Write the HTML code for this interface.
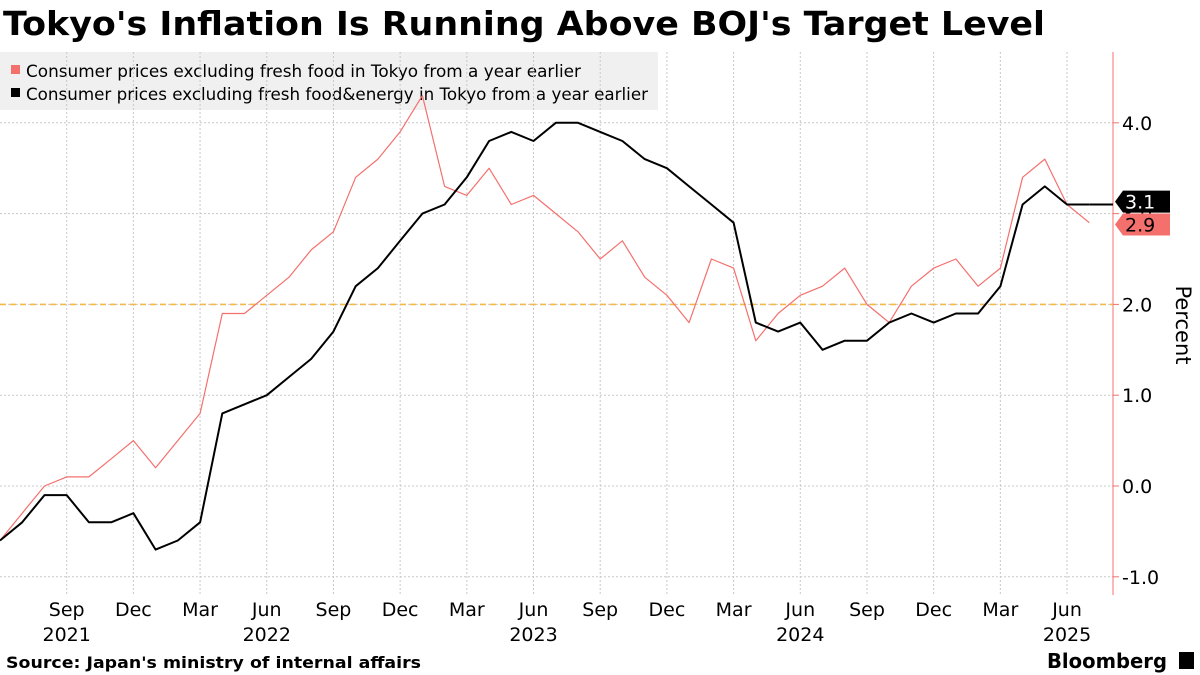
<!DOCTYPE html>
<html><head><meta charset="utf-8"><style>
body{margin:0;background:#fff;font-family:"DejaVu Sans","Liberation Sans",sans-serif;}
svg{display:block}
</style></head><body>
<svg id="c" width="1200" height="675" xmlns="http://www.w3.org/2000/svg" font-family="DejaVu Sans, Liberation Sans, sans-serif">
<text x="3" y="35" font-size="33" font-weight="bold" fill="#000" textLength="1042" lengthAdjust="spacingAndGlyphs">Tokyo's Inflation Is Running Above BOJ's Target Level</text>
<rect x="0" y="52" width="658" height="58" fill="#f0f0f0"/>
<rect x="11" y="65" width="9" height="9" fill="#f4706d"/>
<text x="26" y="77" font-size="16.5" fill="#000" textLength="555" lengthAdjust="spacingAndGlyphs">Consumer prices excluding fresh food in Tokyo from a year earlier</text>
<rect x="11" y="88" width="9" height="9" fill="#000"/>
<text x="26" y="100" font-size="16.5" fill="#000" textLength="622" lengthAdjust="spacingAndGlyphs">Consumer prices excluding fresh food&amp;energy in Tokyo from a year earlier</text>
<g id="grid"></g>
<g id="ticks"></g>
<g id="xt"></g>
<g id="series"></g>
<text transform="translate(1176,325) rotate(90)" font-size="21" text-anchor="middle" fill="#000">Percent</text>
<text x="6" y="668" font-size="16" font-weight="bold" fill="#000" textLength="415" lengthAdjust="spacingAndGlyphs">Source: Japan's ministry of internal affairs</text>
<text x="1047" y="668" font-size="20" font-weight="bold" fill="#000" textLength="120" lengthAdjust="spacingAndGlyphs">Bloomberg</text>
<rect x="1179" y="652" width="15" height="17" fill="#000"/>
</svg>
<script>
const months=["Jun","Jul","Aug","Sep","Oct","Nov","Dec","Jan","Feb","Mar","Apr","May"];
const startYear=2021;
const core=[-0.6,-0.3,0.0,0.1,0.1,0.3,0.5,0.2,0.5,0.8,1.9,1.9,2.1,2.3,2.6,2.8,3.4,3.6,3.9,4.3,3.3,3.2,3.5,3.1,3.2,3.0,2.8,2.5,2.7,2.3,2.1,1.8,2.5,2.4,1.6,1.9,2.1,2.2,2.4,2.0,1.8,2.2,2.4,2.5,2.2,2.4,3.4,3.6,3.1,2.9];
const coreCore=[-0.6,-0.4,-0.1,-0.1,-0.4,-0.4,-0.3,-0.7,-0.6,-0.4,0.8,0.9,1.0,1.2,1.4,1.7,2.2,2.4,2.7,3.0,3.1,3.4,3.8,3.9,3.8,4.0,4.0,3.9,3.8,3.6,3.5,3.3,3.1,2.9,1.8,1.7,1.8,1.5,1.6,1.6,1.8,1.9,1.8,1.9,1.9,2.2,3.1,3.3,3.1,3.1];
const yTicks=[-1,0,1,2,3,4];
const yTickLabels=["-1.0","0.0","1.0","2.0","3.0","4.0"];
const target=2.0;
const NS="http://www.w3.org/2000/svg";
const X=i=>i*22.23;
const Y=v=>486-v*90.8;
function mk(tag,attrs,parent,txt){const e=document.createElementNS(NS,tag);for(const k in attrs)e.setAttribute(k,attrs[k]);if(txt!==undefined)e.textContent=txt;document.getElementById(parent).appendChild(e);return e;}
yTicks.forEach((t,i)=>{
 const g=mk('line',{x1:0,x2:1113,y1:Y(t),y2:Y(t),stroke:'#c8c8c8','stroke-dasharray':'2,2'},'grid');
 
 
 const tk=mk('line',{x1:1113,x2:1119,y1:Y(t),y2:Y(t),stroke:'#f4706d'},'ticks');
 
 
 const l=mk('text',{x:1122,y:Y(t)+7,'font-size':19,fill:'#000'},'ticks',yTickLabels[i]);
 
 
});
const ax=mk('line',{x1:1113,x2:1113,y1:52,y2:595,stroke:'#f4706d'},'ticks');


const n=core.length;
for(let i=1;i<n;i++){
 const m=months[i%12];
 if(["Mar","Jun","Sep","Dec"].indexOf(m)<0)continue;
 const vg=mk('line',{x1:X(i),x2:X(i),y1:52,y2:595,stroke:'#c8c8c8','stroke-dasharray':'2,2'},'grid');
 
 
 const t=mk('text',{x:X(i),y:616,'font-size':19,'text-anchor':'middle',fill:'#000'},'xt',m);
 
 
 const yr=startYear+Math.floor((i+5)/12);
 if(m==="Sep"&&yr===2021||m==="Jun"&&yr>2021){
  const y=mk('text',{x:X(i),y:641,'font-size':19,'text-anchor':'middle',fill:'#000'},'xt',String(yr));
  
  
 }
}
const tl=mk('line',{x1:0,x2:1113,y1:Y(target),y2:Y(target),stroke:'#f5b94a','stroke-width':1.6,'stroke-dasharray':'6,4'},'series');


function line(arr,color,w,name){
 const d=arr.map((v,i)=>(i?'L':'M')+X(i).toFixed(1)+','+Y(v).toFixed(1)).join('');
 const p=mk('path',{d:d,fill:'none',stroke:color,'stroke-width':w,'stroke-linejoin':'round'},'series');
 
 
}
line(core,'#f4706d',1.2,'line-core-cpi');
line(coreCore,'#000',2,'line-core-core-cpi');
const lb=coreCore[n-1], lr=core[n-1];
const ext=mk('line',{x1:X(n-1),x2:1113,y1:Y(lb),y2:Y(lb),stroke:'#000','stroke-width':2},'series');


function tag(v,yc,fill,tc,name){
 const p=mk('path',{d:`M1115,${yc} L1123,${yc-11} L1170,${yc-11} L1170,${yc+11} L1123,${yc+11} Z`,fill:fill},'series');
 
 
 const t=mk('text',{x:1125,y:yc+7,'font-size':19,fill:tc},'series',v.toFixed(1));
 
 
}
tag(lb,Math.min(Y(lb),Y(lr)-22)+1,'#000','#fff','last-value-core-core');
tag(lr,Math.max(Y(lr),Y(lb)+22)-2,'#f4706d','#000','last-value-core');
</script>
</body></html>
